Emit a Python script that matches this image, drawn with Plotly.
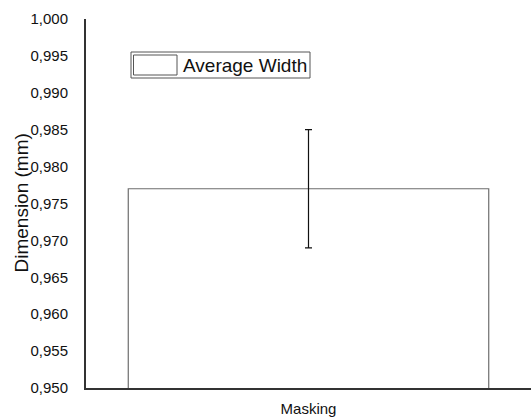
import plotly.graph_objects as go

categories = ["Masking"]
average_width = [0.977]
width_error = [0.008]
series_name = "Average Width"
y_ticks = [0.950, 0.955, 0.960, 0.965, 0.970, 0.975, 0.980, 0.985, 0.990, 0.995, 1.000]
y_tick_labels = [f"{v:.3f}".replace(".", ",") for v in y_ticks]

FONT = "Liberation Sans, Arial, sans-serif"
W, H = 531, 419
L, R, T, B = 86, 0, 19, 31
pw, ph = W - L - R, H - T - B

def px(x):
    return (x - L) / pw

def py(y):
    return (H - B - y) / ph

fig = go.Figure()
fig.add_trace(go.Bar(
    x=categories, y=average_width, name=series_name,
    marker=dict(color="white", line=dict(color="#6e6e6e", width=1.2)),
    error_y=dict(type="data", array=width_error, visible=True,
                 color="#111111", thickness=1.2, width=3.5),
    showlegend=False,
))

# manual legend box (matches wide legend swatch of reference)
fig.add_shape(type="rect", xref="paper", yref="paper",
              x0=px(131), x1=px(310), y0=py(78), y1=py(52),
              line=dict(color="#555555", width=1), fillcolor="white", layer="above")
fig.add_shape(type="rect", xref="paper", yref="paper",
              x0=px(133.5), x1=px(177), y0=py(75), y1=py(55),
              line=dict(color="#555555", width=1), fillcolor="white", layer="above")
fig.add_annotation(text=series_name, xref="paper", yref="paper",
                   x=px(181), y=py(65), xanchor="left", yanchor="middle",
                   showarrow=False, font=dict(family=FONT, size=19, color="#111111"))

# y-axis title placed as rotated text
fig.add_annotation(text="Dimension (mm)", xref="paper", yref="paper",
                   x=px(20.5), y=py(203), xanchor="center", yanchor="middle",
                   textangle=-90, showarrow=False,
                   font=dict(family=FONT, size=19, color="#111111"))

fig.update_layout(
    width=W, height=H,
    margin=dict(l=L, r=R, t=T, b=B, pad=0),
    paper_bgcolor="white", plot_bgcolor="white",
    bargap=0.19,
    font=dict(family=FONT, color="#111111"),
)
fig.update_xaxes(
    showline=True, linecolor="#333333", linewidth=2, showgrid=False,
    ticks="", tickfont=dict(size=15, family=FONT, color="#111111"),
    ticklabelstandoff=6, zeroline=False,
)
fig.update_yaxes(
    range=[0.950, 1.000], tickvals=y_ticks, ticktext=y_tick_labels,
    showline=True, linecolor="#333333", linewidth=2, showgrid=False,
    ticks="", tickfont=dict(size=15, family=FONT, color="#111111"),
    ticklabelstandoff=13, zeroline=False,
)
fig.write_html("out.html")
